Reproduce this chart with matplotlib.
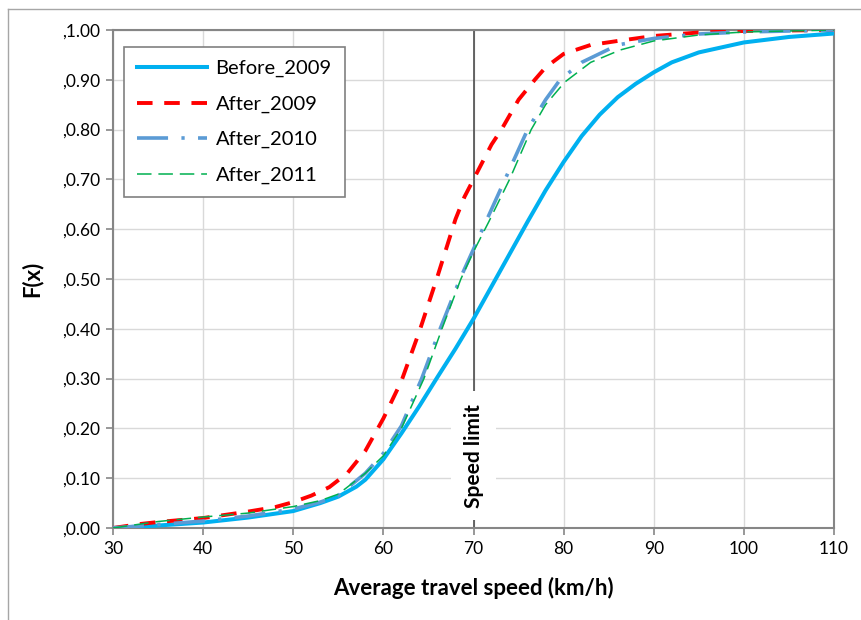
import matplotlib.pyplot as plt
from matplotlib.lines import Line2D
from matplotlib.ticker import FuncFormatter, MultipleLocator

plt.rcParams['font.family'] = ['Lato', 'DejaVu Sans']

# speeds (km/h) and cumulative share F(x)
x_before = [30, 35, 40, 45, 50, 53, 55, 57, 58, 60, 62, 64, 66, 68, 70, 72, 74, 76, 78, 80,
            82, 84, 86, 88, 90, 92, 95, 100, 105, 110]
y_before = [0.0, 0.005, 0.011, 0.021, 0.034, 0.05, 0.063, 0.083, 0.097, 0.138, 0.19, 0.245,
            0.303, 0.36, 0.42, 0.485, 0.55, 0.615, 0.678, 0.735, 0.787, 0.83, 0.865, 0.892,
            0.915, 0.935, 0.955, 0.975, 0.986, 0.993]

x_2009 = [30, 33, 35, 40, 45, 48, 50, 52, 54, 56, 58, 60, 62, 64, 66, 68, 69, 70, 72, 73.1,
          75, 76.8, 78, 80, 83, 86, 90, 95, 100, 110]
y_2009 = [0.0, 0.008, 0.012, 0.02, 0.033, 0.042, 0.052, 0.065, 0.082, 0.11, 0.155, 0.22,
          0.295, 0.395, 0.505, 0.62, 0.665, 0.70, 0.77, 0.80, 0.86, 0.90, 0.925, 0.952, 0.97,
          0.978, 0.988, 0.995, 0.998, 1.0]

x_2010 = [30, 35, 40, 45, 50, 53, 55, 58, 60, 62, 64.25, 66.3, 68.5, 70, 71.5, 73.5, 76, 78,
          79.6, 82, 86, 90, 95, 100, 110]
y_2010 = [0.0, 0.007, 0.014, 0.024, 0.038, 0.052, 0.065, 0.11, 0.15, 0.205, 0.30, 0.40, 0.50,
          0.56, 0.62, 0.70, 0.80, 0.86, 0.90, 0.935, 0.97, 0.983, 0.992, 0.996, 1.0]

x_2011 = [30, 35, 40, 45, 50, 53, 55, 58, 60, 62, 64.5, 66.5, 68.6, 70, 71.7, 74, 76.4, 78,
          80.1, 83, 86.3, 90, 95, 100, 110]
y_2011 = [0.0, 0.013, 0.022, 0.03, 0.043, 0.055, 0.068, 0.11, 0.145, 0.20, 0.30, 0.40, 0.50,
          0.555, 0.615, 0.70, 0.80, 0.85, 0.895, 0.935, 0.96, 0.978, 0.99, 0.996, 1.0]

speed_limit = 70

fig = plt.figure(figsize=(8.61, 6.2), dpi=100)
ax = fig.add_axes([113 / 861, 1 - 528 / 620, 721 / 861, 498 / 620])

# outer chart-area frame
fig.add_artist(Line2D([8 / 861, 1.0], [1 - 9 / 620, 1 - 9 / 620], color='#A6A6A6', lw=1))
fig.add_artist(Line2D([8 / 861, 8 / 861], [0.0, 1 - 9 / 620], color='#A6A6A6', lw=1))

ax.plot(x_before, y_before, color='#00B0F0', lw=2.9, label='Before_2009', zorder=4,
        solid_joinstyle='round')
ax.plot(x_2009, y_2009, color='#FF0000', lw=2.8, dashes=(4, 3), label='After_2009', zorder=5)
ax.plot(x_2010, y_2010, color='#5B9BD5', lw=2.6, dashes=(8.6, 3.7, 0.9, 3.7),
        label='After_2010', zorder=6)
ax.plot(x_2011, y_2011, color='#00B050', lw=1.1, dashes=(9.5, 4.5), label='After_2011', zorder=7)

ax.axvline(speed_limit, color='#404040', lw=1.1, zorder=2)
ax.text(speed_limit, 0.145, 'Speed limit', rotation=90, ha='center', va='center',
        fontsize=15, fontweight='bold', zorder=3,
        bbox=dict(boxstyle='square,pad=0.6', fc='white', ec='none'))

ax.set_xlim(30, 110)
ax.set_ylim(0, 1)
ax.xaxis.set_major_locator(MultipleLocator(10))
ax.yaxis.set_major_locator(MultipleLocator(0.1))
ax.yaxis.set_major_formatter(FuncFormatter(lambda v, p: ',{:.2f}'.format(v)))
ax.grid(True, color='#D9D9D9', lw=1)
ax.set_axisbelow(True)
for s in ax.spines.values():
    s.set_color('#868686')
    s.set_linewidth(1.5)
ax.tick_params(direction='out', length=5, width=1.2, color='#868686', labelsize=12.5,
               pad=4)

ax.set_xlabel('Average travel speed (km/h)', fontsize=16, fontweight='bold', labelpad=15)
ax.set_ylabel('F(x)', fontsize=16, fontweight='bold', labelpad=14)

leg = ax.legend(loc='upper left', bbox_to_anchor=(0.015, 0.966), borderaxespad=0,
                fontsize=14.5, handlelength=3.5, labelspacing=0.9, fancybox=False,
                edgecolor='#808080', framealpha=1, borderpad=0.65, handletextpad=0.4)
leg.get_frame().set_linewidth(1.2)

fig.savefig('out.png', dpi=100)
